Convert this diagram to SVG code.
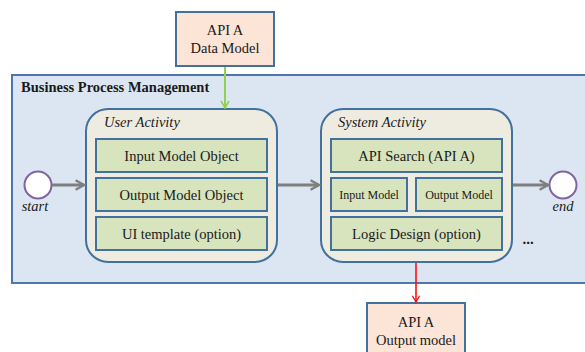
<svg xmlns="http://www.w3.org/2000/svg" width="585" height="352" viewBox="0 0 585 352">
<defs>
<style>
text{font-family:"Liberation Serif","Times New Roman",serif;fill:#1a1a1a}
.ext{fill:#FCE4D6;stroke:#41719C;stroke-width:2}
.act{fill:#EEECE1;stroke:#41719C;stroke-width:2}
.item{fill:#D7E4BD;stroke:#41719C;stroke-width:2}
.ev{fill:#FFFFFF;stroke:#8064A2;stroke-width:2}
.t13{font-size:14.5px;text-anchor:middle}
.t11{font-size:12px;text-anchor:middle}
.it{font-style:italic;font-size:14.5px}
.flow{stroke:#7F7F7F;stroke-width:3;fill:none}
</style>
<marker id="ag" viewBox="0 0 10 10" refX="8" refY="5" markerWidth="4" markerHeight="4" orient="auto" markerUnits="strokeWidth"><path d="M1,1 L8,5 L1,9" fill="none" stroke="#7F7F7F" stroke-width="2"/></marker>
<marker id="agr" viewBox="0 0 10 10" refX="8" refY="5" markerWidth="5" markerHeight="5" orient="auto" markerUnits="strokeWidth"><path d="M1,1 L8,5 L1,9" fill="none" stroke="#92D050" stroke-width="1.6"/></marker>
<marker id="ar" viewBox="0 0 10 10" refX="8" refY="5" markerWidth="6" markerHeight="6" orient="auto" markerUnits="strokeWidth"><path d="M1,1 L8,5 L1,9" fill="none" stroke="#FF0000" stroke-width="1.4"/></marker>
</defs>
<g id="bpm">
<rect x="12" y="75" width="580" height="208" fill="#DCE6F2" stroke="#4F76A8" stroke-width="2"/>
<text x="21" y="92" style="font-size:14.5px;font-weight:bold">Business Process Management</text>
</g>
<g id="api-data-model">
<rect class="ext" x="176" y="12" width="98" height="54"/>
<text class="t13" x="225" y="35">API A</text>
<text class="t13" x="225" y="53">Data Model</text>
</g>
<g id="user-activity">
<rect class="act" x="86" y="109" width="191" height="153" rx="22"/>
<text class="it" x="104" y="127">User Activity</text>
<rect class="item" x="96" y="139" width="171" height="33"/>
<text class="t13" x="181.5" y="160.5">Input Model Object</text>
<rect class="item" x="96" y="178" width="171" height="33"/>
<text class="t13" x="181.5" y="199.5">Output Model Object</text>
<rect class="item" x="96" y="217" width="171" height="33"/>
<text class="t13" x="181.5" y="238.5">UI template (option)</text>
</g>
<g id="system-activity">
<rect class="act" x="321" y="109" width="191" height="153" rx="22"/>
<text class="it" x="338" y="127">System Activity</text>
<rect class="item" x="331" y="139" width="171" height="33"/>
<text class="t13" x="416.5" y="160.5">API Search (API A)</text>
<rect class="item" x="331" y="178" width="76" height="33"/>
<text class="t11" x="369" y="198.5">Input Model</text>
<rect class="item" x="416" y="178" width="86" height="33"/>
<text class="t11" x="459" y="198.5">Output Model</text>
<rect class="item" x="331" y="217" width="171" height="33"/>
<text class="t13" x="416.5" y="238.5">Logic Design (option)</text>
</g>
<g id="start">
<circle class="ev" cx="38" cy="185" r="13.5"/>
<text class="it" x="35" y="211" text-anchor="middle">start</text>
</g>
<g id="end">
<circle class="ev" cx="563" cy="185" r="13.5"/>
<text class="it" x="563" y="211" text-anchor="middle">end</text>
</g>
<g id="ellipsis">
<text x="528" y="244" style="font-size:15px;font-weight:bold;text-anchor:middle">...</text>
</g>
<g id="api-output-model">
<rect class="ext" x="367" y="303" width="98" height="56"/>
<text class="t13" x="416" y="327">API A</text>
<text class="t13" x="416" y="345">Output model</text>
</g>
<g id="connectors">
<line class="flow" x1="52" y1="185" x2="84" y2="185" marker-end="url(#ag)"/>
<line class="flow" x1="278" y1="185" x2="319" y2="185" marker-end="url(#ag)"/>
<line class="flow" x1="513" y1="185" x2="548" y2="185" marker-end="url(#ag)"/>
<line x1="225" y1="67" x2="225" y2="108" stroke="#92D050" stroke-width="2" marker-end="url(#agr)"/>
<line x1="416" y1="263" x2="416" y2="302" stroke="#FF0000" stroke-width="1.5" marker-end="url(#ar)"/>
</g>
</svg>
